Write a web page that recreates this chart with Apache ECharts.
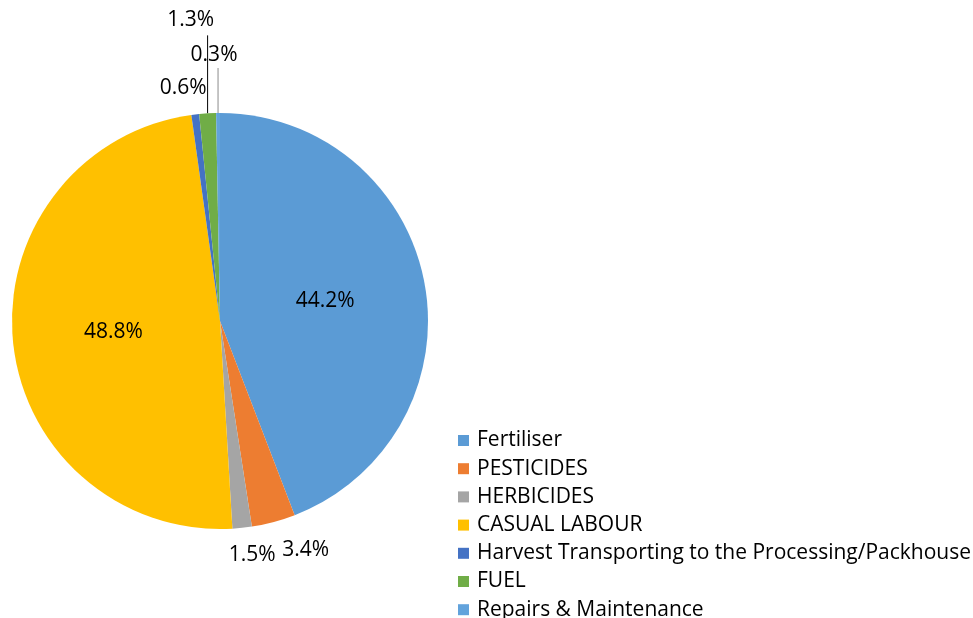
<!DOCTYPE html>
<html>
<head>
<meta charset="utf-8">
<script src="https://cdn.jsdelivr.net/npm/echarts@6/dist/echarts.min.js"></script>
<style>
  html, body { margin: 0; padding: 0; background: #fff; }
  #chart { width: 973px; height: 618px; }
</style>
</head>
<body>
<div id="chart"></div>
<script>
// Cost shares by category (percent)
const categories = [
  'Fertiliser',
  'PESTICIDES',
  'HERBICIDES',
  'CASUAL LABOUR',
  'Harvest Transporting to the Processing/Packhouse',
  'FUEL',
  'Repairs & Maintenance'
];
const shares = [44.2, 3.4, 1.5, 48.8, 0.6, 1.3, 0.3];
const colors = ['#5b9bd5', '#ed7d31', '#a5a5a5', '#ffc000', '#4472c4', '#70ad47', '#62a3dc'];

// Label placement for the thin slices: offset from the slice's outer edge,
// plus how far a vertical leader line reaches above the edge (0 = no line).
const labelOffsets = {
  1: { dx: 32, dy: 28, lead: 0 },
  2: { dx: 10, dy: 27, lead: 0 },
  4: { dx: -12, dy: -26, lead: 0 },
  5: { dx: -17, dy: -93, lead: 78, lineColor: '#000000' },
  6: { dx: -4, dy: -58, lead: 45, lineColor: '#8c8c8c' }
};
const insideLabels = [0, 3];

const FONT = '"Open Sans", "Noto Sans", sans-serif';

const chart = echarts.init(document.getElementById('chart'));

const data = categories.map((name, i) => {
  const inside = insideLabels.includes(i);
  const off = labelOffsets[i];
  return {
    name,
    value: shares[i],
    itemStyle: { color: colors[i] },
    label: { position: inside ? 'inside' : 'outside' },
    labelLine: {
      show: !!(off && off.lead),
      lineStyle: { color: (off && off.lineColor) || '#000', width: 1 }
    }
  };
});

chart.setOption({
  backgroundColor: '#ffffff',
  animation: false,
  legend: {
    orient: 'vertical',
    left: 458,
    top: 430,
    height: 400,
    padding: 0,
    itemWidth: 11,
    itemHeight: 11,
    itemGap: 7.2,
    icon: 'rect',
    textStyle: { fontFamily: FONT, fontSize: 21, color: '#000', lineHeight: 21, padding: [0, 0, 0, 3] },
    data: categories
  },
  series: [{
    type: 'pie',
    center: [220, 321],
    radius: [0, 208],
    startAngle: 90,
    clockwise: true,
    avoidLabelOverlap: false,
    data,
    label: {
      formatter: (p) => p.value.toFixed(1) + '%',
      fontFamily: FONT,
      fontSize: 21,
      color: '#000'
    },
    labelLine: { length: 10, length2: 0 },
    labelLayout: function (p) {
      const off = labelOffsets[p.dataIndex];
      if (!off || !p.labelLinePoints) return {};
      const edge = p.labelLinePoints[0];
      const res = {
        x: edge[0] + off.dx,
        y: edge[1] + off.dy,
        align: 'center',
        verticalAlign: 'middle'
      };
      if (off.lead) {
        res.labelLinePoints = [[edge[0], edge[1]], [edge[0], edge[1] - off.lead]];
      }
      return res;
    }
  }]
});
</script>
</body>
</html>
